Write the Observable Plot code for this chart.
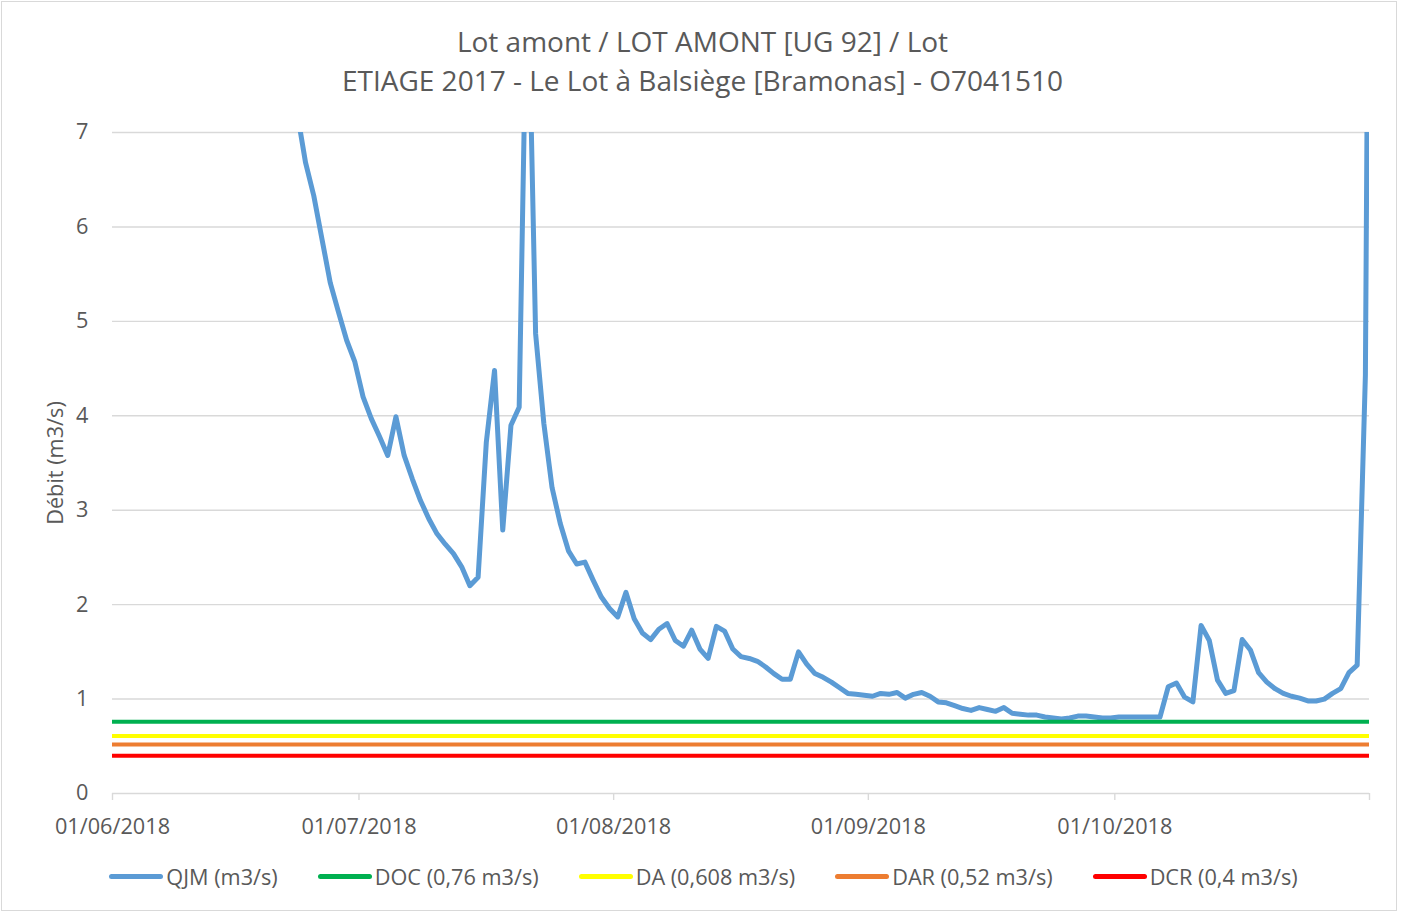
<!DOCTYPE html>
<html>
<head>
<meta charset="utf-8">
<script src="https://cdn.jsdelivr.net/npm/d3@7"></script>
<script src="https://cdn.jsdelivr.net/npm/@observablehq/plot@0.6"></script>
<style>
  html, body { margin: 0; padding: 0; background: #fff; }
  body { width: 1405px; height: 914px; position: relative; overflow: hidden; font-family: "Open Sans", sans-serif; color: #595959; }
  #frame { position: absolute; left: 1px; top: 1px; width: 1396px; height: 910px; border: 1px solid #D9D9D9; box-sizing: border-box; }
  #title { position: absolute; left: 0; width: 1405px; top: 22px; text-align: center; font-size: 28px; line-height: 39px; }
  #chart { position: absolute; left: 0; top: 100px; }
  #ylabel { position: absolute; left: 54px; top: 463px; transform: translate(-50%, -50%) rotate(-90deg); font-size: 21.7px; white-space: nowrap; }
  #legend { position: absolute; left: 0; width: 1405px; top: 862px; display: flex; justify-content: center; gap: 40px; font-size: 21.7px; padding-left: 2px; box-sizing: border-box; }
  .item { display: flex; align-items: center; gap: 3px; }
  .sw { width: 54px; height: 4.5px; border-radius: 3px; }
</style>
</head>
<body>
<div id="frame"></div>
<div id="title"></div>
<div id="ylabel"></div>
<div id="chart"></div>
<div id="legend"></div>
<script>
// ---- Data ----
const titleLines = ["Lot amont / LOT AMONT [UG 92] / Lot", "ETIAGE 2017 - Le Lot à Balsiège [Bramonas] - O7041510"];
const yLabel = "Débit (m3/s)";
const startDay = "2018-06-01";
// daily mean flow QJM (m3/s), one value per day from 01/06/2018
const qjm = [
  16.5, 15.8, 15.0, 14.6, 14.1, 13.5, 13.0, 12.6, 12.1, 11.7,
  11.3, 10.9, 10.5, 10.1, 9.8, 9.5, 9.1, 8.8, 8.5, 8.1,
  7.8, 7.5, 7.2, 6.68, 6.33, 5.87, 5.41, 5.10, 4.80, 4.57,
  4.20, 3.97, 3.78, 3.58, 3.99, 3.58, 3.33, 3.10, 2.91, 2.75,
  2.64, 2.54, 2.40, 2.20, 2.29, 3.72, 4.48, 2.79, 3.90, 4.09,
  9.0, 4.87, 3.92, 3.24, 2.86, 2.57, 2.43, 2.45, 2.26, 2.08,
  1.96, 1.87, 2.13, 1.85, 1.70, 1.63, 1.74, 1.80, 1.62, 1.56,
  1.73, 1.53, 1.43, 1.77, 1.72, 1.53, 1.45, 1.43, 1.40, 1.34,
  1.27, 1.21, 1.21, 1.50, 1.37, 1.27, 1.23, 1.18, 1.12, 1.06,
  1.05, 1.04, 1.03, 1.06, 1.05, 1.07, 1.01, 1.05, 1.07, 1.03,
  0.97, 0.96, 0.93, 0.90, 0.88, 0.91, 0.89, 0.87, 0.91, 0.85,
  0.84, 0.83, 0.83, 0.81, 0.80, 0.79, 0.80, 0.82, 0.82, 0.81,
  0.80, 0.80, 0.81, 0.81, 0.81, 0.81, 0.81, 0.81, 1.13, 1.17,
  1.02, 0.97, 1.78, 1.62, 1.20, 1.06, 1.09, 1.63, 1.52, 1.28,
  1.18, 1.11, 1.06, 1.03, 1.01, 0.98, 0.98, 1.00, 1.06, 1.11,
  1.28, 1.36, 4.43, 18.0
];
const thresholdNames = ["DOC (0,76 m3/s)", "DA (0,608 m3/s)", "DAR (0,52 m3/s)", "DCR (0,4 m3/s)"];
const thresholdValues = [0.76, 0.608, 0.52, 0.4];
const thresholdColors = ["#00B050", "#FFFF00", "#ED7D31", "#FF0000"];
const seriesName = "QJM (m3/s)";
const seriesColor = "#5B9BD5";
const yTicks = [0, 1, 2, 3, 4, 5, 6, 7];
const xTickDates = ["2018-06-01", "2018-07-01", "2018-08-01", "2018-09-01", "2018-10-01", "2018-11-01"];
const xTickLabels = ["01/06/2018", "01/07/2018", "01/08/2018", "01/09/2018", "01/10/2018", ""];
const xDomain = ["2018-06-01", "2018-11-01"];

// ---- Build ----
document.getElementById("title").innerHTML = titleLines.join("<br>");
document.getElementById("ylabel").textContent = yLabel;

const start = new Date(startDay + "T00:00:00Z");
const DAY = 86400000;
// Excel date axis: each day's point sits in the middle of its day cell
const series = qjm.map((v, i) => ({date: new Date(start.getTime() + i * DAY + DAY / 2), value: v}));
const thresholds = thresholdValues.map((v, i) => ({name: thresholdNames[i], value: v, color: thresholdColors[i]}));
const tickDates = xTickDates.map(s => new Date(s + "T00:00:00Z"));
const labelOf = new Map(tickDates.map((d, i) => [d.getTime(), xTickLabels[i]]));

const chart = Plot.plot({
  width: 1405,
  height: 743,
  marginTop: 32,
  marginBottom: 50,
  marginLeft: 112,
  marginRight: 36,
  style: {fontFamily: "'Open Sans', sans-serif", fontSize: "21.7px", color: "#595959", background: "transparent", overflow: "visible"},
  x: {type: "utc", domain: xDomain.map(s => new Date(s + "T00:00:00Z"))},
  y: {domain: [0, 7]},
  marks: [
    Plot.ruleY(yTicks.filter(t => t > 0), {stroke: "#D9D9D9", strokeWidth: 1.4}),
    Plot.ruleY([0], {stroke: "#D9D9D9", strokeWidth: 1.4}),
    Plot.axisY(yTicks, {tickSize: 0, tickPadding: 24, label: null, fill: "#595959", tickFormat: d => String(d)}),
    Plot.axisX(tickDates, {tickSize: 7, tickPadding: 18, stroke: "#D9D9D9", strokeWidth: 1.4, fill: "#595959", label: null,
      tickFormat: d => labelOf.get(d.getTime())}),
    Plot.line(series, {x: "date", y: "value", stroke: seriesColor, strokeWidth: 5, strokeLinejoin: "round", strokeLinecap: "round", clip: true}),
    Plot.ruleY(thresholds, {y: "value", stroke: "color", strokeWidth: 4})
  ]
});
document.getElementById("chart").appendChild(chart);

// ---- Legend ----
const legend = document.getElementById("legend");
const items = [{name: seriesName, color: seriesColor}].concat(thresholds);
for (const it of items) {
  const el = document.createElement("div");
  el.className = "item";
  const sw = document.createElement("div");
  sw.className = "sw";
  sw.style.background = it.color;
  const tx = document.createElement("span");
  tx.textContent = it.name;
  el.appendChild(sw);
  el.appendChild(tx);
  legend.appendChild(el);
}
</script>
</body>
</html>
